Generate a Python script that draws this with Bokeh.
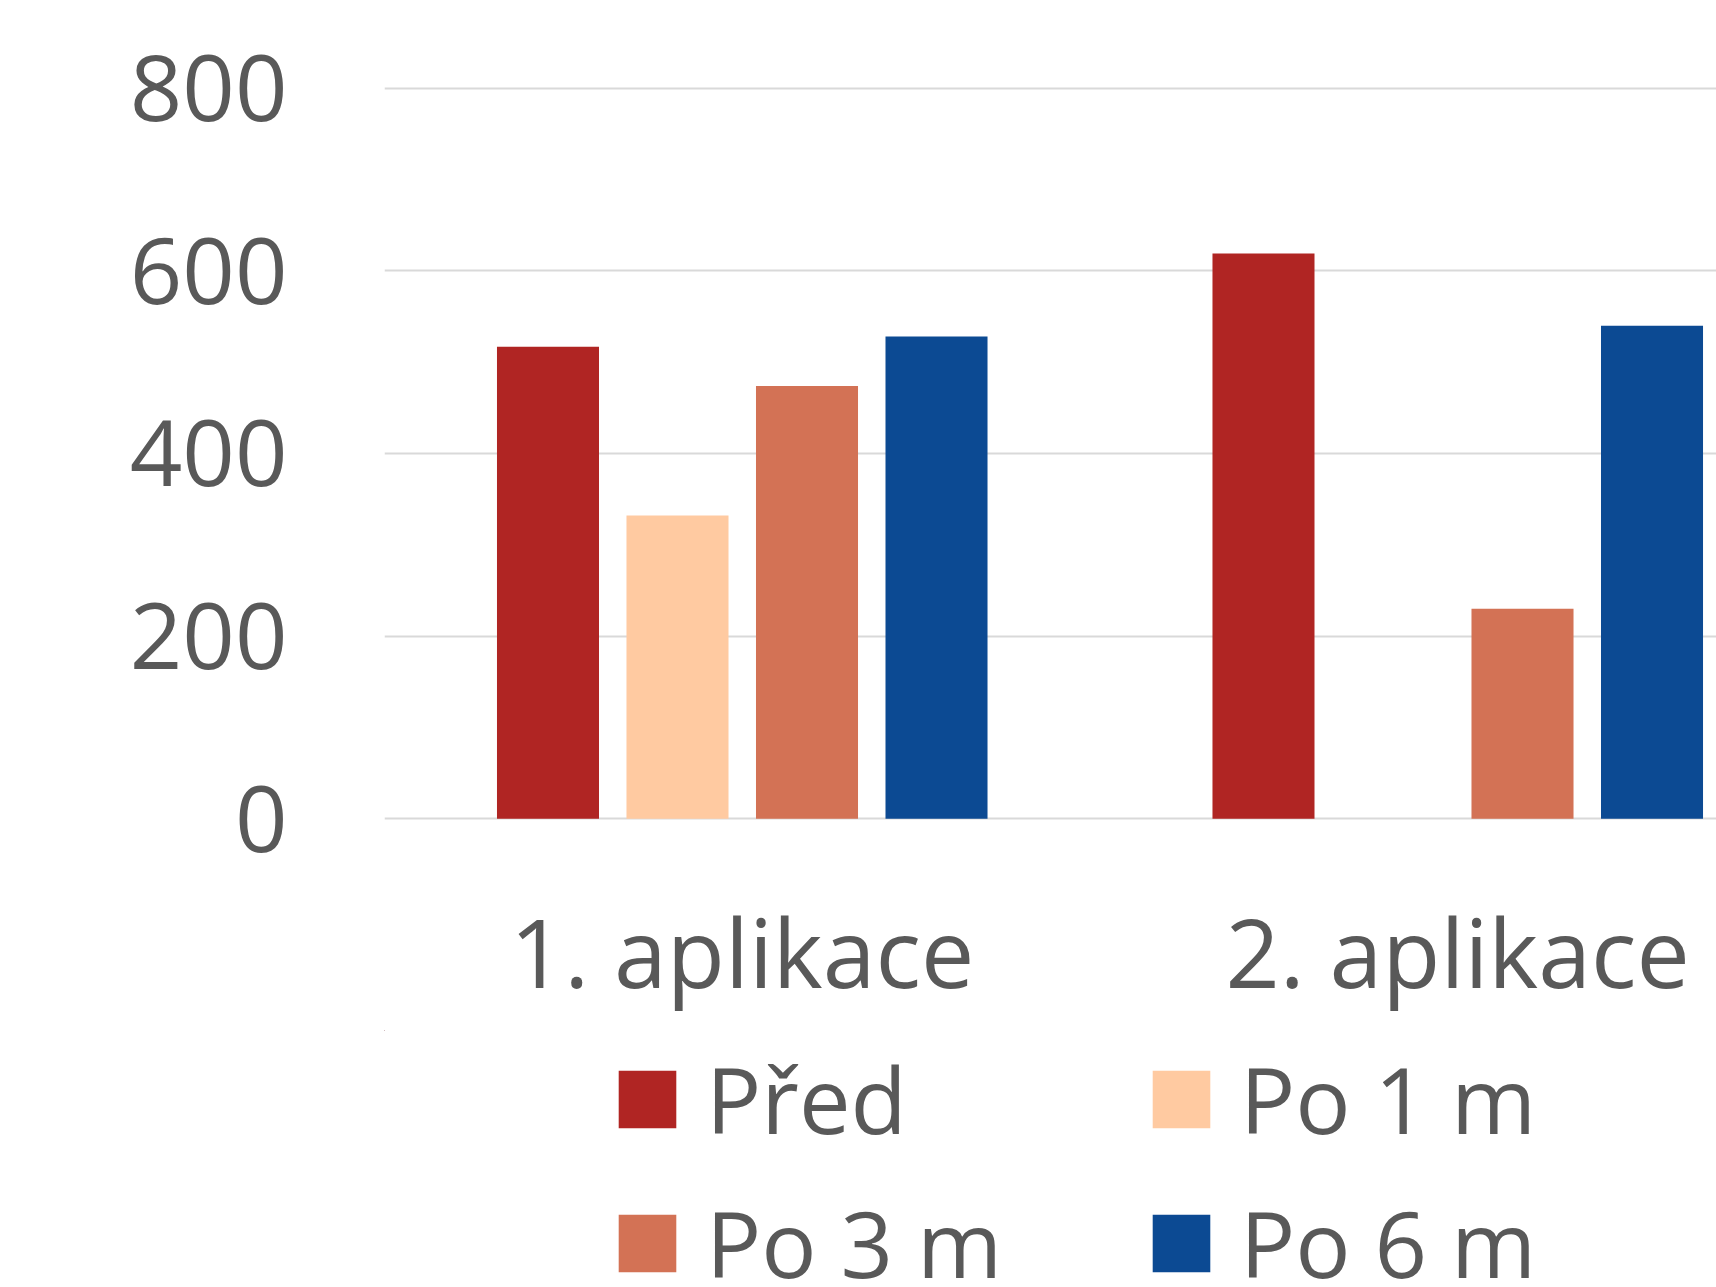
from bokeh.plotting import figure
from bokeh.layouts import column
from bokeh.models import ColumnDataSource, Range1d, FixedTicker, Legend, LegendItem
from bokeh.transform import dodge
from bokeh.embed import file_html
from bokeh.resources import INLINE

categories = ["1. aplikace", "2. aplikace"]
series_names = ["Před", "Po 1 m", "Po 3 m", "Po 6 m"]
pred = [517, 619]
po1m = [332, 0]
po3m = [474, 230]
po6m = [528, 540]
colors = ["#B02523", "#FFCAA1", "#D37255", "#0C4A93"]
y_ticks = [0, 200, 400, 600, 800]

FONT = "Open Sans"
TEXT = "#595959"

xs = [i + 0.5 for i in range(len(categories))]
source = ColumnDataSource(data=dict(x=xs, pred=pred, po1m=po1m, po3m=po3m, po6m=po6m))

W, H = 1716, 1287
LEFT, TOP, FH = 384, 85, 735
H1 = 1030
p = figure(width=W, height=H1, output_backend="svg", toolbar_location=None,
           x_range=Range1d(0, (W - LEFT) / 715.5), y_range=Range1d(-2, 803),
           min_border_left=LEFT, min_border_right=0, min_border_top=TOP,
           min_border_bottom=H1 - TOP - FH)
p.outline_line_color = None
p.background_fill_color = "white"
p.border_fill_color = "white"

pitch = 0.181
bw = 0.1426
cols = ["pred", "po1m", "po3m", "po6m"]
for k, (col, c) in enumerate(zip(cols, colors)):
    p.vbar(x=dodge("x", (k - 1.5) * pitch), top=col, bottom=0, width=bw, source=source,
           fill_color=c, line_color=None)

# axes
p.yaxis.ticker = FixedTicker(ticks=y_ticks)
p.yaxis.axis_line_color = None
p.yaxis.major_tick_line_color = None
p.yaxis.minor_tick_line_color = None
p.yaxis.major_tick_out = 0
p.yaxis.major_label_standoff = 97
p.yaxis.major_label_text_font = FONT
p.yaxis.major_label_text_font_size = "92px"
p.yaxis.major_label_text_color = TEXT

p.xaxis.ticker = FixedTicker(ticks=xs)
p.xaxis.major_label_overrides = {x: c for x, c in zip(xs, categories)}
p.xaxis.axis_line_color = None
p.xaxis.major_tick_line_color = None
p.xaxis.minor_tick_line_color = None
p.xaxis.major_tick_out = 0
p.xaxis.major_label_standoff = 65
p.xaxis.major_label_text_font = FONT
p.xaxis.major_label_text_font_size = "95px"
p.xaxis.major_label_text_color = TEXT

p.xgrid.grid_line_color = None
p.ygrid.grid_line_color = "#D9D9D9"
p.ygrid.grid_line_width = 2

# legend strip below the chart (its frame is aligned with the chart's frame);
# its ranges lie away from the bars, so the strip only shows the legend
H2 = H - H1
p2 = figure(width=W, height=H2, output_backend="svg", toolbar_location=None,
            x_range=Range1d(100, 101), y_range=Range1d(-20000, -19999),
            x_axis_type=None, y_axis_type=None,
            min_border_left=0, min_border_right=0, min_border_top=0, min_border_bottom=0)
p2.outline_line_color = None
p2.grid.visible = False
p2.background_fill_color = "white"
p2.border_fill_color = "white"
items = []
for k, (col, name, c) in enumerate(zip(cols, series_names, colors)):
    r = p2.vbar(x=dodge("x", (k - 1.5) * pitch), top=col, bottom=0, width=bw, source=source,
                fill_color=c, line_color=None)
    items.append(LegendItem(label=name, renderers=[r]))

lg = Legend(items=items)
lg.orientation = "horizontal"
lg.ncols = 2
lg.location = (227, -18)
lg.padding = 0
lg.margin = 0
lg.spacing = 19
lg.glyph_width = 72
lg.glyph_height = 72
lg.label_standoff = 23
lg.label_width = 420
lg.label_height = 125
lg.label_text_font = FONT
lg.label_text_font_size = "92px"
lg.label_text_color = TEXT
lg.border_line_color = None
lg.background_fill_alpha = 0
p2.add_layout(lg, "center")

open("out.html", "w").write(file_html(column(p, p2, spacing=0), INLINE))
